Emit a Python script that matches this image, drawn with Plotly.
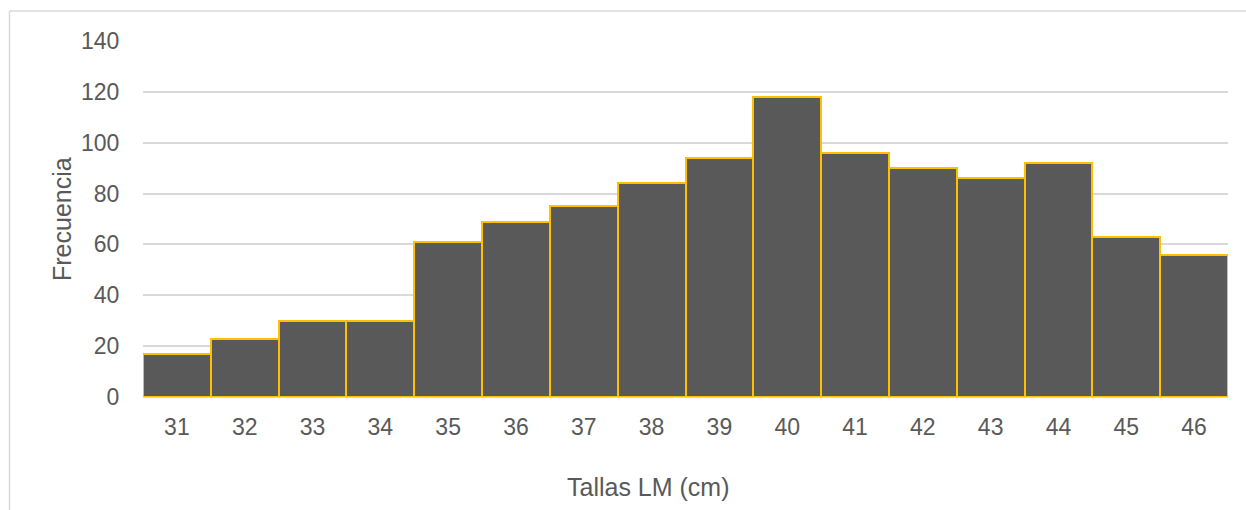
import plotly.graph_objects as go

# Frequency by length class (LM, cm)
tallas = [31, 32, 33, 34, 35, 36, 37, 38, 39, 40, 41, 42, 43, 44, 45, 46]
frecuencia = [17, 23, 30, 30, 61, 69, 75, 84, 94, 118, 96, 90, 86, 92, 63, 56]
y_ticks = [0, 20, 40, 60, 80, 100, 120, 140]

W, H = 1246, 510
L, R, T, B = 143, 18, 41, 113
pw, ph = W - L - R, H - T - B


def px_x(p):
    return (p - L) / pw


def px_y(p):
    return (H - B - p) / ph


text_color = "#595959"
grid_color = "#D9D9D9"
font_family = "Liberation Sans, Arial, sans-serif"
tick_size = 23
title_size = 25

fig = go.Figure(
    go.Bar(
        x=[str(t) for t in tallas],
        y=frecuencia,
        marker=dict(color="#595959", line=dict(color="#FFC000", width=2)),
        hoverinfo="x+y",
    )
)

fig.update_layout(
    width=W,
    height=H,
    margin=dict(l=L, r=R, t=T, b=B),
    paper_bgcolor="white",
    plot_bgcolor="white",
    bargap=0,
    showlegend=False,
    font=dict(family=font_family, color=text_color, size=tick_size),
    xaxis=dict(
        type="category",
        showgrid=False,
        showline=False,
        zeroline=False,
        ticks="outside",
        ticklen=9,
        tickcolor="rgba(0,0,0,0)",
        tickfont=dict(size=tick_size, color=text_color),
    ),
    yaxis=dict(
        range=[0, 140],
        tickvals=y_ticks,
        showgrid=True,
        gridcolor=grid_color,
        gridwidth=1.5,
        zeroline=True,
        zerolinecolor=grid_color,
        zerolinewidth=1.5,
        showline=False,
        ticks="outside",
        ticklen=18,
        tickcolor="rgba(0,0,0,0)",
        tickfont=dict(size=tick_size, color=text_color),
    ),
    annotations=[
        dict(
            text="Tallas LM (cm)",
            xref="paper", yref="paper",
            x=px_x(648), y=px_y(487),
            xanchor="center", yanchor="middle",
            showarrow=False,
            font=dict(size=title_size, color=text_color),
        ),
        dict(
            text="Frecuencia",
            xref="paper", yref="paper",
            x=px_x(62), y=px_y(219),
            xanchor="center", yanchor="middle",
            textangle=-90,
            showarrow=False,
            font=dict(size=title_size, color=text_color),
        ),
    ],
    shapes=[
        dict(type="line", xref="paper", yref="paper",
             x0=px_x(9.5), x1=px_x(9.5), y0=px_y(11), y1=px_y(H + 5),
             line=dict(color=grid_color, width=1.5)),
        dict(type="line", xref="paper", yref="paper",
             x0=px_x(9.5), x1=px_x(W + 5), y0=px_y(11), y1=px_y(11),
             line=dict(color=grid_color, width=1.5)),
    ],
)

fig.write_html("out.html")
